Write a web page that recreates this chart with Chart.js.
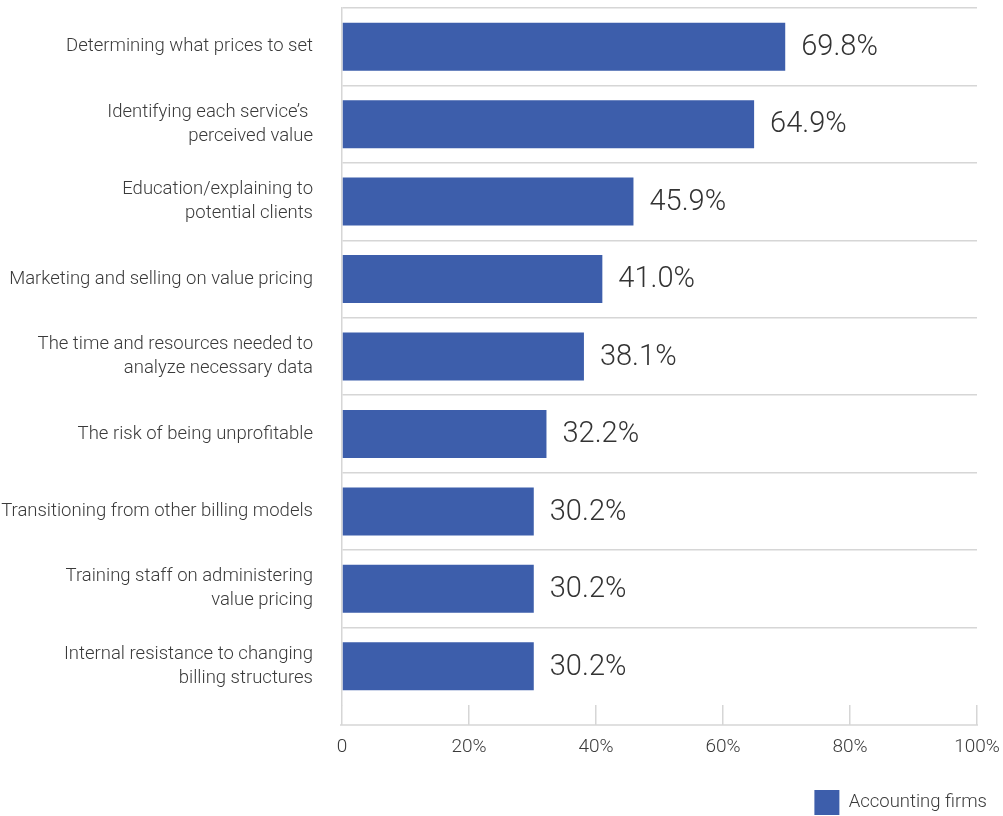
<!DOCTYPE html>
<html>
<head>
<meta charset="utf-8">
<script src="https://cdn.jsdelivr.net/npm/chart.js@4.4.1/dist/chart.umd.min.js"></script>
<style>
  html, body { margin: 0; padding: 0; background: #ffffff; }
  #wrap { width: 1003px; height: 816px; }
</style>
</head>
<body>
<div id="wrap"><canvas id="chart" width="1003" height="816"></canvas></div>
<script>
// Challenges reported by accounting firms when adopting value pricing
const categories = [
  'Determining what prices to set',
  ['Identifying each service\u2019s ', 'perceived value'],
  ['Education/explaining to', 'potential clients'],
  'Marketing and selling on value pricing',
  ['The time and resources needed to', 'analyze necessary data'],
  'The risk of being unprofitable',
  'Transitioning from other billing models',
  ['Training staff on administering', 'value pricing'],
  ['Internal resistance to changing', 'billing structures']
];
const seriesName = 'Accounting firms';
const values = [69.8, 64.9, 45.9, 41.0, 38.1, 32.2, 30.2, 30.2, 30.2];
const xTicks = [0, 20, 40, 60, 80, 100];
const xTickLabels = ['0', '20%', '40%', '60%', '80%', '100%'];

const BAR_COLOR = '#3d5eab';
const GRID_COLOR = '#d6d6d6';
const TEXT_COLOR = '#3a3a3a';
const FONT = 'Roboto, "Noto Sans", sans-serif';

// Value text to the right of each bar
const valueLabels = {
  id: 'valueLabels',
  afterDatasetsDraw(chart) {
    const ctx = chart.ctx;
    const meta = chart.getDatasetMeta(0);
    ctx.save();
    ctx.font = '300 29px ' + FONT;
    ctx.fillStyle = '#333333';
    ctx.textAlign = 'left';
    ctx.textBaseline = 'middle';
    meta.data.forEach((bar, i) => {
      ctx.fillText(values[i].toFixed(1) + '%', bar.x + 16, bar.y + 1);
    });
    ctx.restore();
  }
};

// Baseline under the x-axis tick marks
const axisBaseline = {
  id: 'axisBaseline',
  afterDraw(chart) {
    const x = chart.scales.x;
    const ctx = chart.ctx;
    const y = chart.chartArea.bottom + 20;
    ctx.save();
    ctx.strokeStyle = GRID_COLOR;
    ctx.lineWidth = 1.5;
    ctx.beginPath();
    ctx.moveTo(x.getPixelForValue(0) - 2, y);
    ctx.lineTo(x.getPixelForValue(100) + 1, y);
    ctx.stroke();
    ctx.restore();
  }
};

function draw() {
  new Chart(document.getElementById('chart'), {
    type: 'bar',
    data: {
      labels: categories,
      datasets: [{
        label: seriesName,
        data: values,
        backgroundColor: BAR_COLOR,
        borderWidth: 0,
        barPercentage: 0.62,
        categoryPercentage: 1.0
      }]
    },
    options: {
      indexAxis: 'y',
      responsive: false,
      animation: false,
      devicePixelRatio: 1,
      layout: { padding: { top: 8, right: 15, bottom: -9, left: 0 } },
      scales: {
        x: {
          min: 0,
          max: 100,
          afterBuildTicks(scale) {
            scale.ticks = xTicks.map(v => ({ value: v }));
          },
          afterFit(scale) {
            scale.height = 84;
            scale.paddingRight = 26;
          },
          grid: {
            drawOnChartArea: false,
            drawTicks: true,
            tickLength: 20,
            color: GRID_COLOR,
            lineWidth: 1.5
          },
          border: { display: false },
          ticks: {
            padding: 11,
            color: TEXT_COLOR,
            font: { family: FONT, size: 19, weight: '300' },
            callback: (v, i) => xTickLabels[i]
          }
        },
        y: {
          afterFit(scale) {
            scale.width = 342;
            scale.paddingTop = 0;
            scale.paddingBottom = 0;
          },
          grid: {
            offset: true,
            drawTicks: false,
            color: ctx => ctx.type === 'tick' ? GRID_COLOR : 'rgba(0,0,0,0)',
            lineWidth: 1.5
          },
          border: { display: true, color: GRID_COLOR, width: 1.5 },
          ticks: {
            padding: 29,
            color: TEXT_COLOR,
            font: { family: FONT, size: 18.5, weight: '300', lineHeight: 1.3 }
          }
        }
      },
      plugins: {
        legend: {
          position: 'bottom',
          align: 'end',
          labels: {
            boxWidth: 25,
            boxHeight: 25,
            padding: 1,
            color: TEXT_COLOR,
            font: { family: FONT, size: 18.5, weight: '300' }
          }
        },
        tooltip: { enabled: false }
      }
    },
    plugins: [valueLabels, axisBaseline]
  });
}

Promise.all([
  document.fonts.load('300 18px Roboto'),
  document.fonts.load('300 29px Roboto')
]).then(draw, draw);
</script>
</body>
</html>
